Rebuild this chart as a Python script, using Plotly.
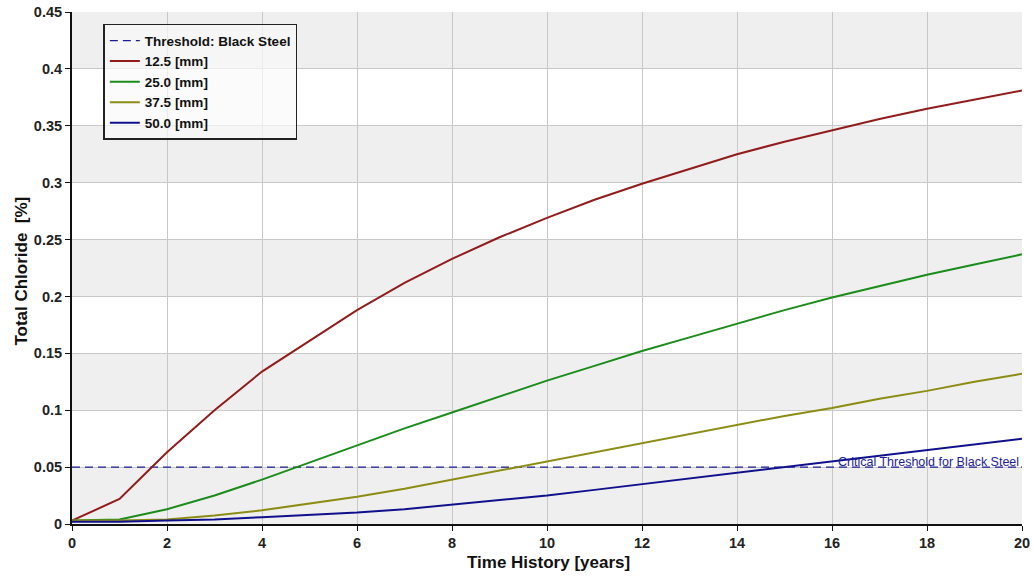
import plotly.graph_objects as go

years = list(range(0, 21))
chloride_12_5 = [0.003, 0.022, 0.063, 0.100, 0.134, 0.161, 0.188, 0.212, 0.233, 0.252, 0.269,
                 0.285, 0.299, 0.312, 0.325, 0.336, 0.346, 0.356, 0.365, 0.373, 0.381]
chloride_25_0 = [0.003, 0.004, 0.013, 0.025, 0.039, 0.054, 0.069, 0.084, 0.098, 0.112, 0.126,
                 0.139, 0.152, 0.164, 0.176, 0.188, 0.199, 0.209, 0.219, 0.228, 0.237]
chloride_37_5 = [0.003, 0.003, 0.004, 0.0075, 0.012, 0.018, 0.024, 0.031, 0.039, 0.047, 0.055,
                 0.063, 0.071, 0.079, 0.087, 0.095, 0.102, 0.110, 0.117, 0.125, 0.132]
chloride_50_0 = [0.002, 0.002, 0.003, 0.004, 0.006, 0.008, 0.010, 0.013, 0.017, 0.021, 0.025,
                 0.030, 0.035, 0.040, 0.045, 0.050, 0.055, 0.060, 0.065, 0.070, 0.075]
threshold_x = [0, 20]
threshold_y = [0.05, 0.05]

series = [
    ("12.5 [mm]", chloride_12_5, "#921b1b"),
    ("25.0 [mm]", chloride_25_0, "#1a8c1a"),
    ("37.5 [mm]", chloride_37_5, "#8c8c14"),
    ("50.0 [mm]", chloride_50_0, "#10108c"),
]

FONT = "Liberation Sans, Arial, sans-serif"

fig = go.Figure()
fig.add_trace(go.Scatter(x=threshold_x, y=threshold_y, mode="lines",
                         name="Threshold: Black Steel",
                         line=dict(color="#1c1c94", width=1.2, dash="8px,5px")))
for name, vals, col in series:
    fig.add_trace(go.Scatter(x=years, y=vals, mode="lines", name=name,
                             line=dict(color=col, width=2)))

# alternating bands
shapes = []
for k in range(0, 9, 2):
    shapes.append(dict(type="rect", xref="x", yref="y", x0=0, x1=20,
                       y0=k * 0.05, y1=(k + 1) * 0.05, fillcolor="#efefef",
                       line=dict(width=0), layer="below"))

fig.add_annotation(x=20, y=0.05, xref="x", yref="y", xanchor="right", yanchor="bottom",
                   text="Critical Threshold for Black Steel", showarrow=False,
                   xshift=-1, yshift=-4,
                   font=dict(family=FONT, size=12.5, color="#1c1c94"))

# axis titles
fig.add_annotation(x=0.5016, y=-0.076, xref="paper", yref="paper", xanchor="center",
                   yanchor="middle", text="<b>Time History [years]</b>", showarrow=False,
                   font=dict(family=FONT, size=17, color="#111"))
fig.add_annotation(x=-0.0526, y=0.493, xref="paper", yref="paper", xanchor="center",
                   yanchor="middle", text="<b>Total Chloride  [%]</b>", showarrow=False,
                   textangle=-90, font=dict(family=FONT, size=17, color="#111"))

fig.update_layout(
    width=1033, height=576,
    margin=dict(l=72, r=11, t=12, b=52, autoexpand=False),
    paper_bgcolor="white", plot_bgcolor="white",
    font=dict(family=FONT, color="#222"),
    shapes=shapes,
    showlegend=True,
    legend=dict(x=0.033, y=0.977, xanchor="left", yanchor="top",
                bgcolor="rgba(250,250,250,0.7)", bordercolor="#222", borderwidth=1.5,
                font=dict(family=FONT, size=13.5, color="#111", weight="bold"),
                tracegroupgap=0, itemwidth=30),
    xaxis=dict(range=[0, 20], dtick=2, showgrid=True, gridcolor="#c8c8c8", gridwidth=1,
               showline=True, linecolor="#111", linewidth=2, ticks="outside",
               ticklen=5, tickcolor="#111", zeroline=False, automargin=False,
               tickfont=dict(family=FONT, size=14.5, color="#222", weight="bold")),
    yaxis=dict(range=[0, 0.45], dtick=0.05, showgrid=True, gridcolor="#c8c8c8", gridwidth=1,
               showline=True, linecolor="#111", linewidth=2, ticks="outside",
               ticklen=5, tickcolor="#111", zeroline=False, tickformat="~g", automargin=False,
               tickfont=dict(family=FONT, size=14.5, color="#222", weight="bold")),
)

fig.write_html("out.html", config={"displayModeBar": False},
               post_script="document.body.style.margin='0';")
